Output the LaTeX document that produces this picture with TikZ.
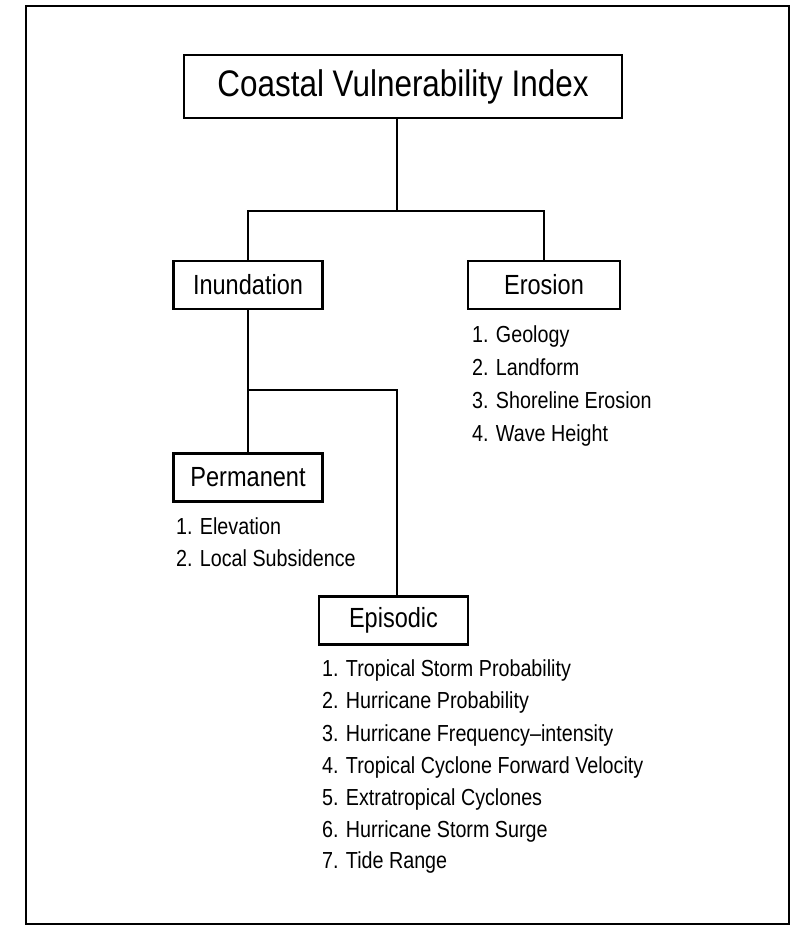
\documentclass[tikz,border=0pt]{standalone}
\usepackage{fontspec}
\setmainfont{Liberation Sans}[FakeStretch=0.85]
\begin{document}
\begin{tikzpicture}[x=1pt,y=-1pt,
  box/.style={draw, line width=2.2pt, inner sep=0pt, minimum height=48pt},
  headfont/.style={font=\fontsize{27.7}{32}\selectfont},
  itemtext/.style={anchor=base west, inner sep=0pt, font=\fontsize{23.2}{28}\selectfont},
  link/.style={line width=1.8pt}]
\useasboundingbox (0,0) rectangle (791,926);
% outer frame
\draw[line width=2.2pt] (26,6) rectangle (789,924);

% boxes
\node[box, minimum width=438pt, minimum height=63pt, font=\fontsize{37}{42}\selectfont]
  (cvi) at (403,86.5) {Coastal Vulnerability Index};
\node[box, headfont, minimum width=149pt] (inund) at (248,285) {Inundation};
\node[box, headfont, minimum width=152pt] (eros) at (544,285) {Erosion};
\node[box, headfont, minimum width=149pt] (perm) at (248,477.5) {Permanent};
\node[box, headfont, minimum width=149pt] (epi) at (393.5,620.5) {Episodic};

% erosion variables
\node[itemtext] (e1) at (472,342) {1. Geology};
\node[itemtext] (e2) at (472,375) {2. Landform};
\node[itemtext] (e3) at (472,408) {3. Shoreline Erosion};
\node[itemtext] (e4) at (472,441) {4. Wave Height};

% permanent inundation variables
\node[itemtext] (p1) at (176,534) {1. Elevation};
\node[itemtext] (p2) at (176,566) {2. Local Subsidence};

% episodic inundation variables
\node[itemtext] (s1) at (322,676) {1. Tropical Storm Probability};
\node[itemtext] (s2) at (322,708) {2. Hurricane Probability};
\node[itemtext] (s3) at (322,741) {3. Hurricane Frequency--intensity};
\node[itemtext] (s4) at (322,773) {4. Tropical Cyclone Forward Velocity};
\node[itemtext] (s5) at (322,805) {5. Extratropical Cyclones};
\node[itemtext] (s6) at (322,837) {6. Hurricane Storm Surge};
\node[itemtext] (s7) at (322,868) {7. Tide Range};

% tree connectors
\coordinate (j1) at (397,211);
\coordinate (j2) at (248,390);
\coordinate (j3) at (397,390);
\draw[link] (j1 |- cvi.south) -- (j1);
\draw[link] (inund.north) |- (j1) -| (eros.north);
\draw[link] (inund.south) -- (perm.north);
\draw[link] (j2) -- (j3) -- (j3 |- epi.north);
\end{tikzpicture}
\end{document}
